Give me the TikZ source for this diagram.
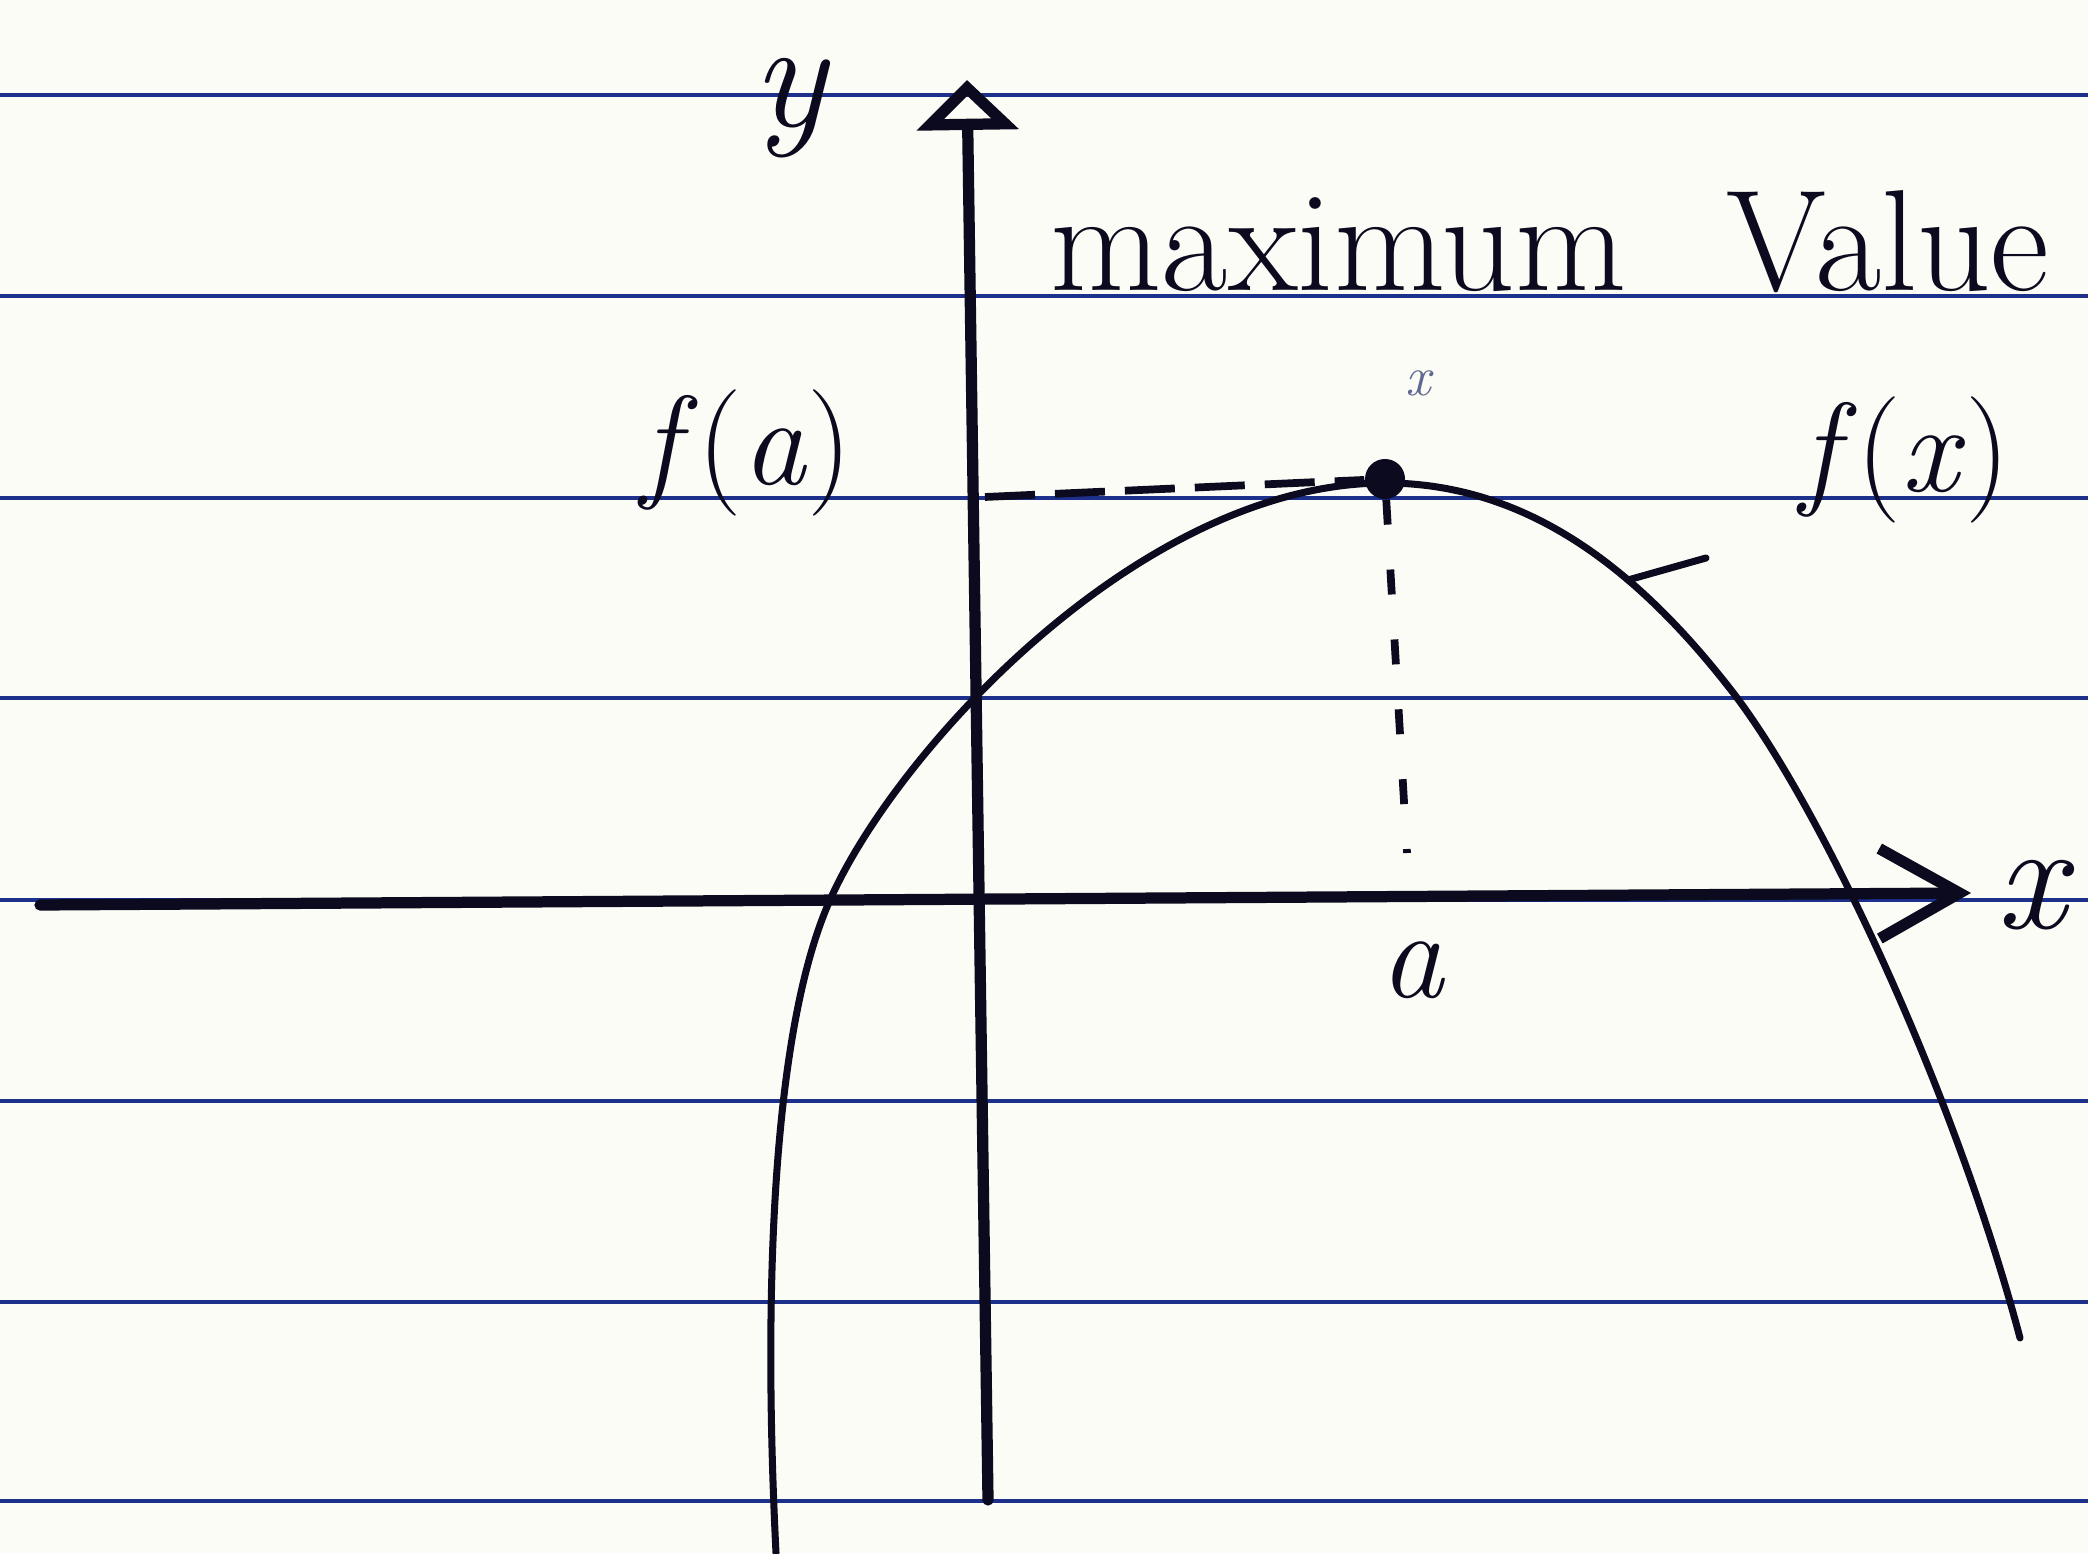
\documentclass[tikz,border=0pt]{standalone}
\usepackage{fontspec}
\usepackage{tikz}
\usetikzlibrary{arrows.meta}
\definecolor{ruleblue}{RGB}{28,48,140}
\definecolor{paper}{RGB}{252,252,246}
\definecolor{inkblack}{RGB}{12,10,30}
\definecolor{faintink}{RGB}{95,105,145}
\tikzset{
  ruled/.style={line width=1.4pt, ruleblue},
  axisline/.style={line width=3.2pt, inkblack, line cap=round},
  curveline/.style={line width=2pt, inkblack, line cap=round},
  guide/.style={line width=2.2pt, inkblack, dash pattern=on 5mm off 2mm},
  vguide/.style={line width=2.2pt, inkblack, dash pattern=on 2.5mm off 4.5mm},
  lbl/.style={inkblack, inner sep=0pt, font=\fontsize{36}{40}\selectfont},
  biglbl/.style={lbl, font=\fontsize{44}{48}\selectfont},
  peak/.style={circle, fill=inkblack, minimum size=4mm, inner sep=0pt}
}

\begin{document}
\begin{tikzpicture}
  \useasboundingbox (0,0) rectangle (20.88,15.53);
  \fill[paper] (0,0) rectangle (20.88,15.53);

  % ruled paper
  \foreach \ly in {14.58,12.57,10.55,8.55,6.53,4.52,2.51,0.52}
    \draw[ruled] (0,\ly) -- (20.88,\ly);

  % axes
  \coordinate (ybot) at (9.88,0.53);
  \coordinate (ytop) at (9.67,14.73);
  \coordinate (xleft) at (0.40,6.48);
  \coordinate (xright) at (19.71,6.60);
  \draw[axisline, -{Triangle[open,length=5mm,width=10mm]}] (ybot) -- (ytop);
  \draw[axisline, -{Straight Barb[length=8mm,width=9mm]}] (xleft) -- (xright);

  \node[biglbl] (ylab) at (7.92,14.45) {\textit{y}};
  \node[biglbl] (xlab) at (20.36,6.58) {\textit{x}};

  % the curve
  \draw[curveline] (7.76,0.00) .. controls (7.62,2.80) and (7.75,5.30) .. (8.30,6.53)
    .. controls (8.95,8.00) and (11.40,10.70) .. (13.85,10.70)
    .. controls (15.30,10.70) and (16.40,9.80) .. (17.31,8.63)
    .. controls (18.20,7.49) and (19.55,4.60) .. (20.20,2.15);

  % maximum point
  \node[peak] (top) at (13.85,10.74) {};
  \coordinate (fa) at (9.85,10.56);
  \coordinate (afoot) at (14.07,7.00);
  \draw[guide] (fa) -- (top);
  \draw[vguide] (top) -- (afoot);

  \node[lbl] (falab) at (7.47,11.00) {\textit{f}(\textit{a})};
  \node[lbl] (fxlab) at (19.05,10.93) {\textit{f}(\textit{x})};
  \node[lbl, font=\fontsize{41}{44}\selectfont, anchor=base west] (maxlab) at (10.50,12.62) {maximum\hspace{10mm}Value};
  \node[lbl] (alab) at (14.13,5.83) {\textit{a}};
  \node[faintink, inner sep=0pt, font=\fontsize{16}{18}\selectfont] (xmark) at (14.20,11.70) {\textit{x}};

  \coordinate (tick1) at (16.28,9.73);
  \coordinate (tick2) at (17.06,9.95);
  \draw[curveline] (tick1) -- (tick2);
\end{tikzpicture}
\end{document}
